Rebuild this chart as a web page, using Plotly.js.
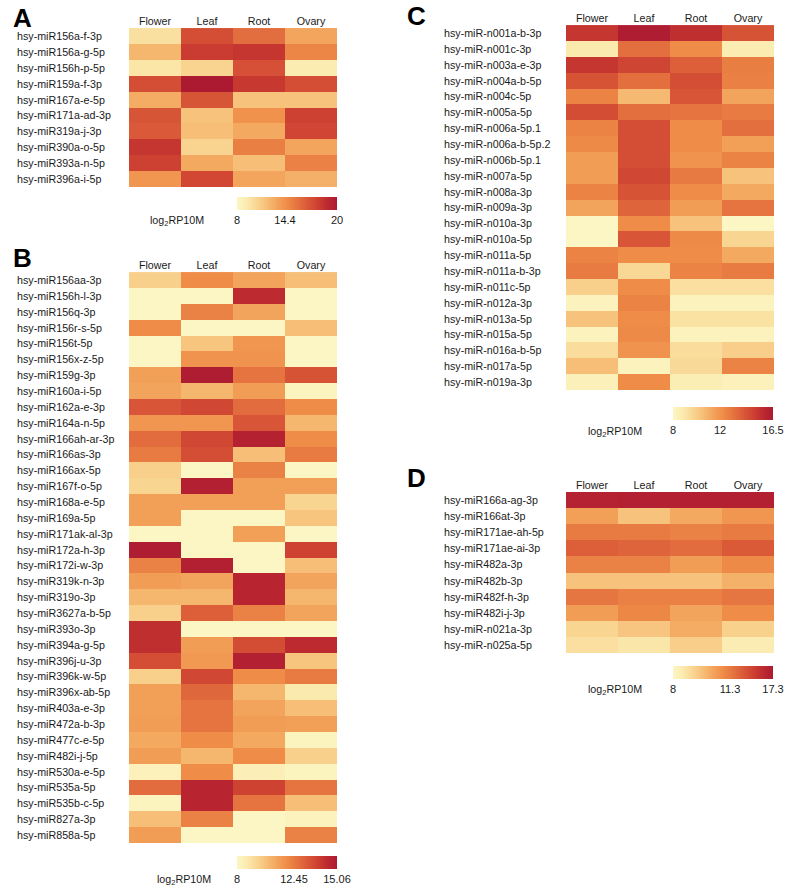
<!DOCTYPE html>
<html>
<head>
<meta charset="utf-8">
<script src="https://cdn.plot.ly/plotly-3.0.1.min.js"></script>
<style>
  html, body { margin: 0; padding: 0; background: #ffffff; }
  #chart { width: 792px; height: 894px; }
</style>
</head>
<body>
<div id="chart"></div>
<script>
// ---------- data (log2RP10M) ----------
const tissues = ['Flower', 'Leaf', 'Root', 'Ovary'];

const rowsA = ['hsy-miR156a-f-3p','hsy-miR156a-g-5p','hsy-miR156h-p-5p','hsy-miR159a-f-3p','hsy-miR167a-e-5p',
  'hsy-miR171a-ad-3p','hsy-miR319a-j-3p','hsy-miR390a-o-5p','hsy-miR393a-n-5p','hsy-miR396a-i-5p'];
const valuesA = [
  [10.0, 17.3, 16.0, 13.3],
  [12.4, 18.1, 18.4, 14.9],
  [9.6, 10.7, 17.2, 9.1],
  [17.3, 20.0, 18.3, 17.3],
  [12.9, 17.0, 11.7, 11.7],
  [17.0, 11.7, 14.4, 17.9],
  [16.8, 12.0, 13.1, 17.7],
  [18.4, 10.7, 15.2, 13.3],
  [17.9, 13.1, 12.0, 15.1],
  [14.1, 17.6, 13.3, 12.7]
];
const scaleA = [8, 14.4, 20];

const rowsB = ['hsy-miR156aa-3p','hsy-miR156h-l-3p','hsy-miR156q-3p','hsy-miR156r-s-5p','hsy-miR156t-5p',
  'hsy-miR156x-z-5p','hsy-miR159g-3p','hsy-miR160a-i-5p','hsy-miR162a-e-3p','hsy-miR164a-n-5p',
  'hsy-miR166ah-ar-3p','hsy-miR166as-3p','hsy-miR166ax-5p','hsy-miR167f-o-5p','hsy-miR168a-e-5p',
  'hsy-miR169a-5p','hsy-miR171ak-al-3p','hsy-miR172a-h-3p','hsy-miR172i-w-3p','hsy-miR319k-n-3p',
  'hsy-miR319o-3p','hsy-miR3627a-b-5p','hsy-miR393o-3p','hsy-miR394a-g-5p','hsy-miR396j-u-3p',
  'hsy-miR396k-w-5p','hsy-miR396x-ab-5p','hsy-miR403a-e-3p','hsy-miR472a-b-3p','hsy-miR477c-e-5p',
  'hsy-miR482i-j-5p','hsy-miR530a-e-5p','hsy-miR535a-5p','hsy-miR535b-c-5p','hsy-miR827a-3p','hsy-miR858a-5p'];
const valuesB = [
  [9.72, 11.9, 11.12, 10.34],
  [8.0, 8.0, 14.45, 8.0],
  [8.0, 12.22, 11.12, 8.0],
  [11.9, 8.0, 8.0, 10.34],
  [8.0, 10.11, 11.59, 8.0],
  [8.0, 11.67, 11.67, 8.0],
  [11.28, 14.94, 12.63, 13.42],
  [11.12, 10.58, 11.36, 8.16],
  [13.36, 13.72, 12.81, 11.9],
  [11.59, 11.59, 13.36, 10.58],
  [12.81, 13.72, 14.76, 11.9],
  [12.45, 13.54, 10.34, 12.45],
  [9.72, 8.0, 12.22, 8.0],
  [9.56, 14.82, 11.28, 11.28],
  [11.28, 11.28, 11.28, 9.56],
  [11.28, 8.0, 8.0, 10.11],
  [8.0, 8.0, 11.28, 8.0],
  [14.94, 8.0, 8.0, 13.85],
  [12.22, 14.82, 8.0, 10.34],
  [11.36, 11.12, 14.64, 11.12],
  [10.58, 10.58, 14.64, 10.58],
  [9.72, 13.12, 12.22, 11.12],
  [14.33, 8.0, 8.0, 8.0],
  [14.33, 11.36, 13.6, 14.45],
  [13.54, 11.51, 14.82, 10.11],
  [9.72, 13.72, 11.9, 12.45],
  [11.28, 12.94, 10.58, 8.78],
  [11.28, 12.63, 11.12, 10.34],
  [11.36, 12.63, 11.36, 11.28],
  [10.97, 11.9, 10.97, 8.16],
  [11.36, 10.58, 11.9, 9.72],
  [8.31, 11.9, 8.47, 8.16],
  [12.81, 14.64, 13.85, 12.63],
  [8.16, 14.64, 12.63, 10.34],
  [10.34, 12.22, 8.0, 8.23],
  [11.36, 8.0, 8.0, 12.22]
];
const scaleB = [8, 12.45, 15.06];

const rowsC = ['hsy-miR-n001a-b-3p','hsy-miR-n001c-3p','hsy-miR-n003a-e-3p','hsy-miR-n004a-b-5p','hsy-miR-n004c-5p',
  'hsy-miR-n005a-5p','hsy-miR-n006a-5p.1','hsy-miR-n006a-b-5p.2','hsy-miR-n006b-5p.1','hsy-miR-n007a-5p',
  'hsy-miR-n008a-3p','hsy-miR-n009a-3p','hsy-miR-n010a-3p','hsy-miR-n010a-5p','hsy-miR-n011a-5p',
  'hsy-miR-n011a-b-3p','hsy-miR-n011c-5p','hsy-miR-n012a-3p','hsy-miR-n013a-5p','hsy-miR-n015a-5p',
  'hsy-miR-n016a-b-5p','hsy-miR-n017a-5p','hsy-miR-n019a-3p'];
const valuesC = [
  [15.22, 16.33, 15.48, 14.2],
  [8.85, 13.27, 12.25, 8.68],
  [15.22, 14.71, 13.78, 12.76],
  [14.2, 13.27, 14.37, 12.68],
  [12.59, 10.72, 14.12, 11.4],
  [14.46, 13.27, 13.1, 12.85],
  [12.59, 14.37, 12.25, 13.27],
  [12.34, 14.37, 12.25, 11.57],
  [11.66, 14.37, 12.0, 12.59],
  [11.66, 14.63, 12.93, 10.38],
  [12.59, 14.2, 12.25, 11.23],
  [11.4, 13.61, 11.66, 13.1],
  [8.0, 12.25, 10.38, 8.0],
  [8.0, 14.12, 12.34, 9.7],
  [12.59, 12.25, 12.25, 11.23],
  [12.85, 9.62, 12.59, 12.85],
  [9.87, 12.25, 9.28, 9.28],
  [8.26, 12.59, 8.26, 8.26],
  [10.38, 12.25, 9.19, 9.19],
  [8.26, 12.34, 8.26, 8.26],
  [9.36, 12.0, 9.36, 9.96],
  [10.55, 8.26, 9.53, 12.59],
  [8.43, 12.25, 8.6, 8.34]
];
const scaleC = [8, 12, 16.5];

const rowsD = ['hsy-miR166a-ag-3p','hsy-miR166at-3p','hsy-miR171ae-ah-5p','hsy-miR171ae-ai-3p','hsy-miR482a-3p',
  'hsy-miR482b-3p','hsy-miR482f-h-3p','hsy-miR482i-j-3p','hsy-miR-n021a-3p','hsy-miR-n025a-5p'];
const valuesD = [
  [16.6, 16.74, 16.74, 16.74],
  [10.43, 9.62, 10.2, 10.66],
  [11.3, 11.3, 11.13, 11.3],
  [12.83, 12.56, 12.14, 13.11],
  [11.13, 11.13, 10.49, 10.95],
  [9.62, 9.62, 9.62, 10.03],
  [11.58, 11.18, 11.18, 11.58],
  [10.49, 11.01, 10.32, 10.89],
  [9.16, 9.56, 10.14, 9.27],
  [8.87, 8.69, 9.33, 8.46]
];
const scaleD = [8, 11.3, 17.3];

// ---------- styling ----------
const W = 792, H = 894;
const FONT = 'Liberation Sans, Arial, Helvetica, sans-serif';
const colorscale = [
  [0.0, '#FCF6C4'], [0.1, '#FBEAAE'], [0.2, '#F9D592'], [0.3, '#F6BE76'],
  [0.4, '#F3A45C'], [0.5, '#EF8C48'], [0.6, '#E57440'], [0.7, '#DA5A38'],
  [0.8, '#CE4232'], [0.9, '#BD2A30'], [1.0, '#AC1A32']
];

// three-point legend scale: value -> position along colour bar
function toPos(v, s, p) {
  const lo = s[0], mid = s[1], hi = s[2];
  if (v <= mid) return p * (v - lo) / (mid - lo);
  return p + (1 - p) * (v - mid) / (hi - mid);
}

const panels = [
  {key: 'A', rows: rowsA, vals: valuesA, scale: scaleA, midPos: 0.48,
   x0: 129, x1: 337, y0: 28, y1: 187, labelX: 15, cb: {x: 237, y: 197}, cbTitle: {x: 177, y: 221}, letter: {x: 11, y: 1}},
  {key: 'B', rows: rowsB, vals: valuesB, scale: scaleB, midPos: 0.57,
   x0: 129, x1: 337, y0: 272, y1: 843, labelX: 15, cb: {x: 237, y: 856}, cbTitle: {x: 184, y: 880}, letter: {x: 11, y: 241}},
  {key: 'C', rows: rowsC, vals: valuesC, scale: scaleC, midPos: 0.47,
   x0: 566, x1: 774, y0: 25, y1: 390, labelX: 442, cb: {x: 673, y: 407}, cbTitle: {x: 615, y: 432}, letter: {x: 405, y: -1}},
  {key: 'D', rows: rowsD, vals: valuesD, scale: scaleD, midPos: 0.57,
   x0: 566, x1: 774, y0: 492, y1: 653, labelX: 442, cb: {x: 673, y: 666}, cbTitle: {x: 615, y: 690}, letter: {x: 405, y: 461}}
];

const data = [];
const layout = {
  width: W, height: H,
  margin: {l: 0, r: 0, t: 0, b: 0},
  paper_bgcolor: '#ffffff', plot_bgcolor: '#ffffff',
  font: {family: FONT, color: '#1a1a1a', size: 10.7},
  showlegend: false,
  annotations: []
};

panels.forEach((pn, i) => {
  const n = i + 1;
  const xa = n === 1 ? 'x' : 'x' + n;
  const ya = n === 1 ? 'y' : 'y' + n;
  const z = pn.vals.map(r => r.map(v => toPos(v, pn.scale, pn.midPos)));
  data.push({
    type: 'heatmap',
    x: tissues, y: pn.rows, z: z,
    customdata: pn.vals,
    hovertemplate: '%{y}<br>%{x}: %{customdata}<extra></extra>',
    xaxis: xa, yaxis: ya,
    zmin: 0, zmax: 1,
    colorscale: colorscale,
    xgap: 0, ygap: 0,
    colorbar: {
      orientation: 'h',
      xref: 'paper', yref: 'paper',
      x: pn.cb.x / W, xanchor: 'left',
      y: 1 - pn.cb.y / H, yanchor: 'top',
      len: 100, lenmode: 'pixels',
      thickness: 13, thicknessmode: 'pixels',
      xpad: 0, ypad: 0,
      outlinewidth: 0,
      ticks: '',
      tickvals: [0, pn.midPos, 1],
      ticktext: pn.scale.map(String),
      tickfont: {family: FONT, size: 11, color: '#1a1a1a'}
    }
  });
  const xk = n === 1 ? 'xaxis' : 'xaxis' + n;
  const yk = n === 1 ? 'yaxis' : 'yaxis' + n;
  layout[xk] = {
    domain: [pn.x0 / W, pn.x1 / W],
    anchor: ya, side: 'top',
    type: 'category',
    showgrid: false, zeroline: false, showline: false, ticks: '',
    tickfont: {family: FONT, size: 10.7, color: '#1a1a1a'},
    fixedrange: true
  };
  layout[yk] = {
    domain: [1 - pn.y1 / H, 1 - pn.y0 / H],
    anchor: xa,
    type: 'category',
    autorange: 'reversed',
    showgrid: false, zeroline: false, showline: false, ticks: '',
    showticklabels: false,
    fixedrange: true
  };
  pn.rows.forEach(r => {
    layout.annotations.push({
      xref: 'paper', yref: ya,
      x: pn.labelX / W, xanchor: 'left',
      y: r, yanchor: 'middle',
      text: r, showarrow: false,
      font: {family: FONT, size: 10.7, color: '#1a1a1a'}
    });
  });
  layout.annotations.push({
    xref: 'paper', yref: 'paper',
    x: pn.cbTitle.x / W, xanchor: 'center',
    y: 1 - pn.cbTitle.y / H, yanchor: 'middle',
    text: 'log<sub>2</sub>RP10M', showarrow: false,
    font: {family: FONT, size: 10.7, color: '#1a1a1a'}
  });
  layout.annotations.push({
    xref: 'paper', yref: 'paper',
    x: pn.letter.x / W, xanchor: 'left',
    y: 1 - pn.letter.y / H, yanchor: 'top',
    text: '<b>' + pn.key + '</b>', showarrow: false,
    font: {family: FONT, size: 26, color: '#000000'}
  });
});

Plotly.newPlot('chart', data, layout, {displayModeBar: false, staticPlot: true});
</script>
</body>
</html>
